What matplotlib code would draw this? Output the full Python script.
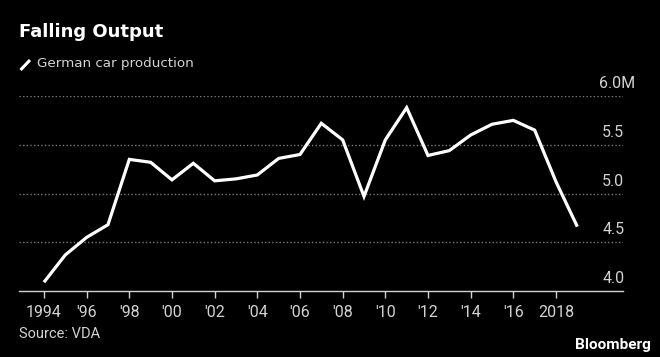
import matplotlib.pyplot as plt
from matplotlib.lines import Line2D

years = list(range(1994, 2020))
production = [4.09, 4.37, 4.55, 4.68, 5.35, 5.32, 5.14, 5.31, 5.13, 5.15,
              5.19, 5.36, 5.40, 5.72, 5.55, 4.97, 5.55, 5.88, 5.39, 5.44,
              5.60, 5.71, 5.75, 5.65, 5.12, 4.66]

xticks = list(range(1994, 2019, 2))
xlabels = ["1994", "'96", "'98", "'00", "'02", "'04", "'06", "'08",
           "'10", "'12", "'14", "'16", "2018"]
yticks = [4.0, 4.5, 5.0, 5.5, 6.0]
ylabels = ["4.0", "4.5", "5.0", "5.5", "6.0M"]

W, H = 660, 357
bg = "black"
fg = "#d2d2d2"
plt.rcParams['font.family'] = ['Roboto', 'DejaVu Sans']

fig = plt.figure(figsize=(W / 100, H / 100), dpi=100, facecolor=bg)
ax = fig.add_axes([19 / W, 1 - 291 / H, (623 - 19) / W, (291 - 96) / H])
ax.set_facecolor(bg)

ax.plot(years, production, color="white", lw=2.3, solid_joinstyle="miter",
        solid_capstyle="butt", zorder=3)

ax.set_xlim(1992.83, 2021.14)
ax.set_ylim(4.0, 6.0)

for s in ["top", "right", "left"]:
    ax.spines[s].set_visible(False)
ax.spines["bottom"].set_color(fg)
ax.spines["bottom"].set_linewidth(1.0)

ax.set_xticks(xticks)
ax.set_xticklabels(xlabels)
ax.tick_params(axis="x", colors=fg, length=5, width=1, pad=5, labelsize=11.5)

ax.set_yticks([])
for v in yticks[1:]:
    ax.axhline(v, color="#7a7a7a", lw=1.0, ls=(0, (1, 1.6)), zorder=1)

# y labels sit above their gridlines, at the right edge
for v, lab in zip(yticks, ylabels):
    dx = 9 if lab.endswith("M") else 1
    ax.annotate(lab, xy=(1, v), xycoords=("axes fraction", "data"),
                xytext=(dx, 9), textcoords="offset points",
                ha="right", va="center", color=fg, fontsize=11.5,
                annotation_clip=False)

fig.text(19 / W, 1 - 32 / H, "Falling Output", color="white", fontsize=13,
         fontweight="bold", family="DejaVu Sans", ha="left", va="center")
fig.add_artist(Line2D([20.5 / W, 30 / W], [1 - 70 / H, 1 - 60 / H],
                      color="white", lw=2.2, solid_capstyle="butt"))
fig.text(37 / W, 1 - 64 / H, "German car production", color=fg, fontsize=9.7,
         family="DejaVu Sans", ha="left", va="center")
fig.text(19 / W, 1 - 334 / H, "Source: VDA", color=fg, fontsize=10.5,
         ha="left", va="center")
fig.text(651 / W, 1 - 345 / H, "Bloomberg", color="white", fontsize=11,
         fontweight="bold", ha="right", va="center")

fig.savefig("out.png", dpi=100, facecolor=bg)
